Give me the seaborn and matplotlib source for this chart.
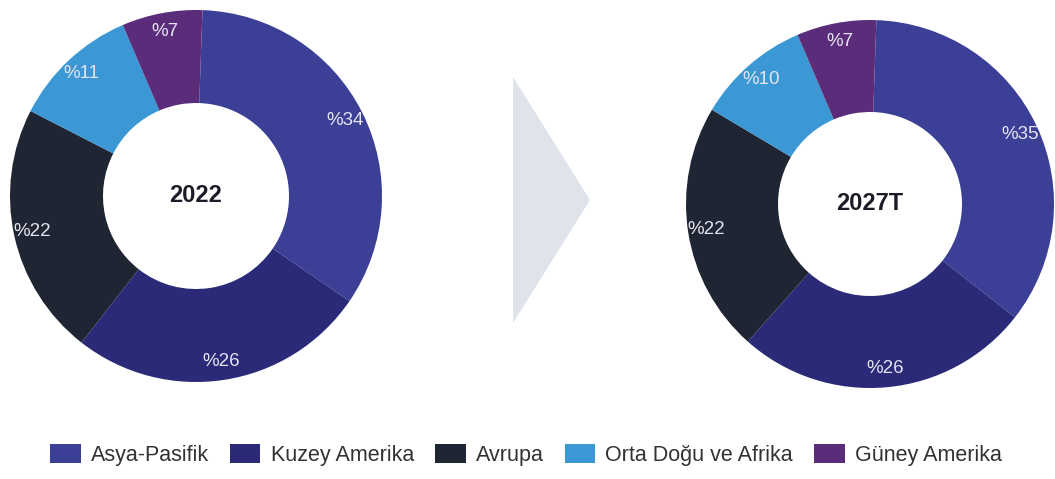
import matplotlib
matplotlib.use("Agg")
import matplotlib.pyplot as plt
from matplotlib.patches import Polygon
import seaborn as sns

# bölgeler ve paylar (%)
regions = ["Asya-Pasifik", "Kuzey Amerika", "Avrupa", "Orta Doğu ve Afrika", "Güney Amerika"]
share_2022 = [34, 26, 22, 11, 7]
share_2027 = [35, 26, 22, 10, 7]
years = ["2022", "2027T"]
colors = ["#3b3f95", "#2b2a78", "#1f2532", "#3b98d4", "#5a2c79"]

sns.set_theme(style="white")
plt.rcParams['font.family'] = ['Liberation Sans', 'DejaVu Sans']

fig = plt.figure(figsize=(10.55, 4.79), dpi=100)
W, H = 1055, 479


def donut(cx, cy, r, values, title):
    # eksen kutusu piksel cinsinden kare
    ax = fig.add_axes([(cx - r) / W, (H - cy - r) / H, 2 * r / W, 2 * r / H])
    wedges, texts, autotexts = ax.pie(
        values, colors=colors, startangle=88, counterclock=False,
        wedgeprops=dict(width=0.5, linewidth=0),
        autopct=lambda p: f"%{round(p)}", pctdistance=0.9,
        textprops=dict(color="#e4e4f0", fontsize=13.5))
    ax.set_xlim(-1, 1)
    ax.set_ylim(-1, 1)
    ax.set_aspect("equal")
    ax.text(0, 0, title, ha="center", va="center", fontsize=17,
            fontweight="bold", color="#1c1c28")
    return wedges


w1 = donut(196, 196, 186, share_2022, years[0])
w2 = donut(870, 204, 184, share_2027, years[1])

# ortadaki ok
arrow = Polygon([(513 / W, 1 - 77 / H), (513 / W, 1 - 323 / H), (590 / W, 1 - 200 / H)],
                closed=True, transform=fig.transFigure, facecolor="#dfe3ea",
                edgecolor="none")
fig.patches.append(arrow)

fig.legend(w1, regions, loc="center", bbox_to_anchor=(526 / W, 1 - 455 / H),
           ncol=5, frameon=False, fontsize=15.5, handlelength=1.4, handleheight=0.95,
           columnspacing=1.0, handletextpad=0.47, labelcolor="#333333")

plt.savefig("out.png", dpi=100)
